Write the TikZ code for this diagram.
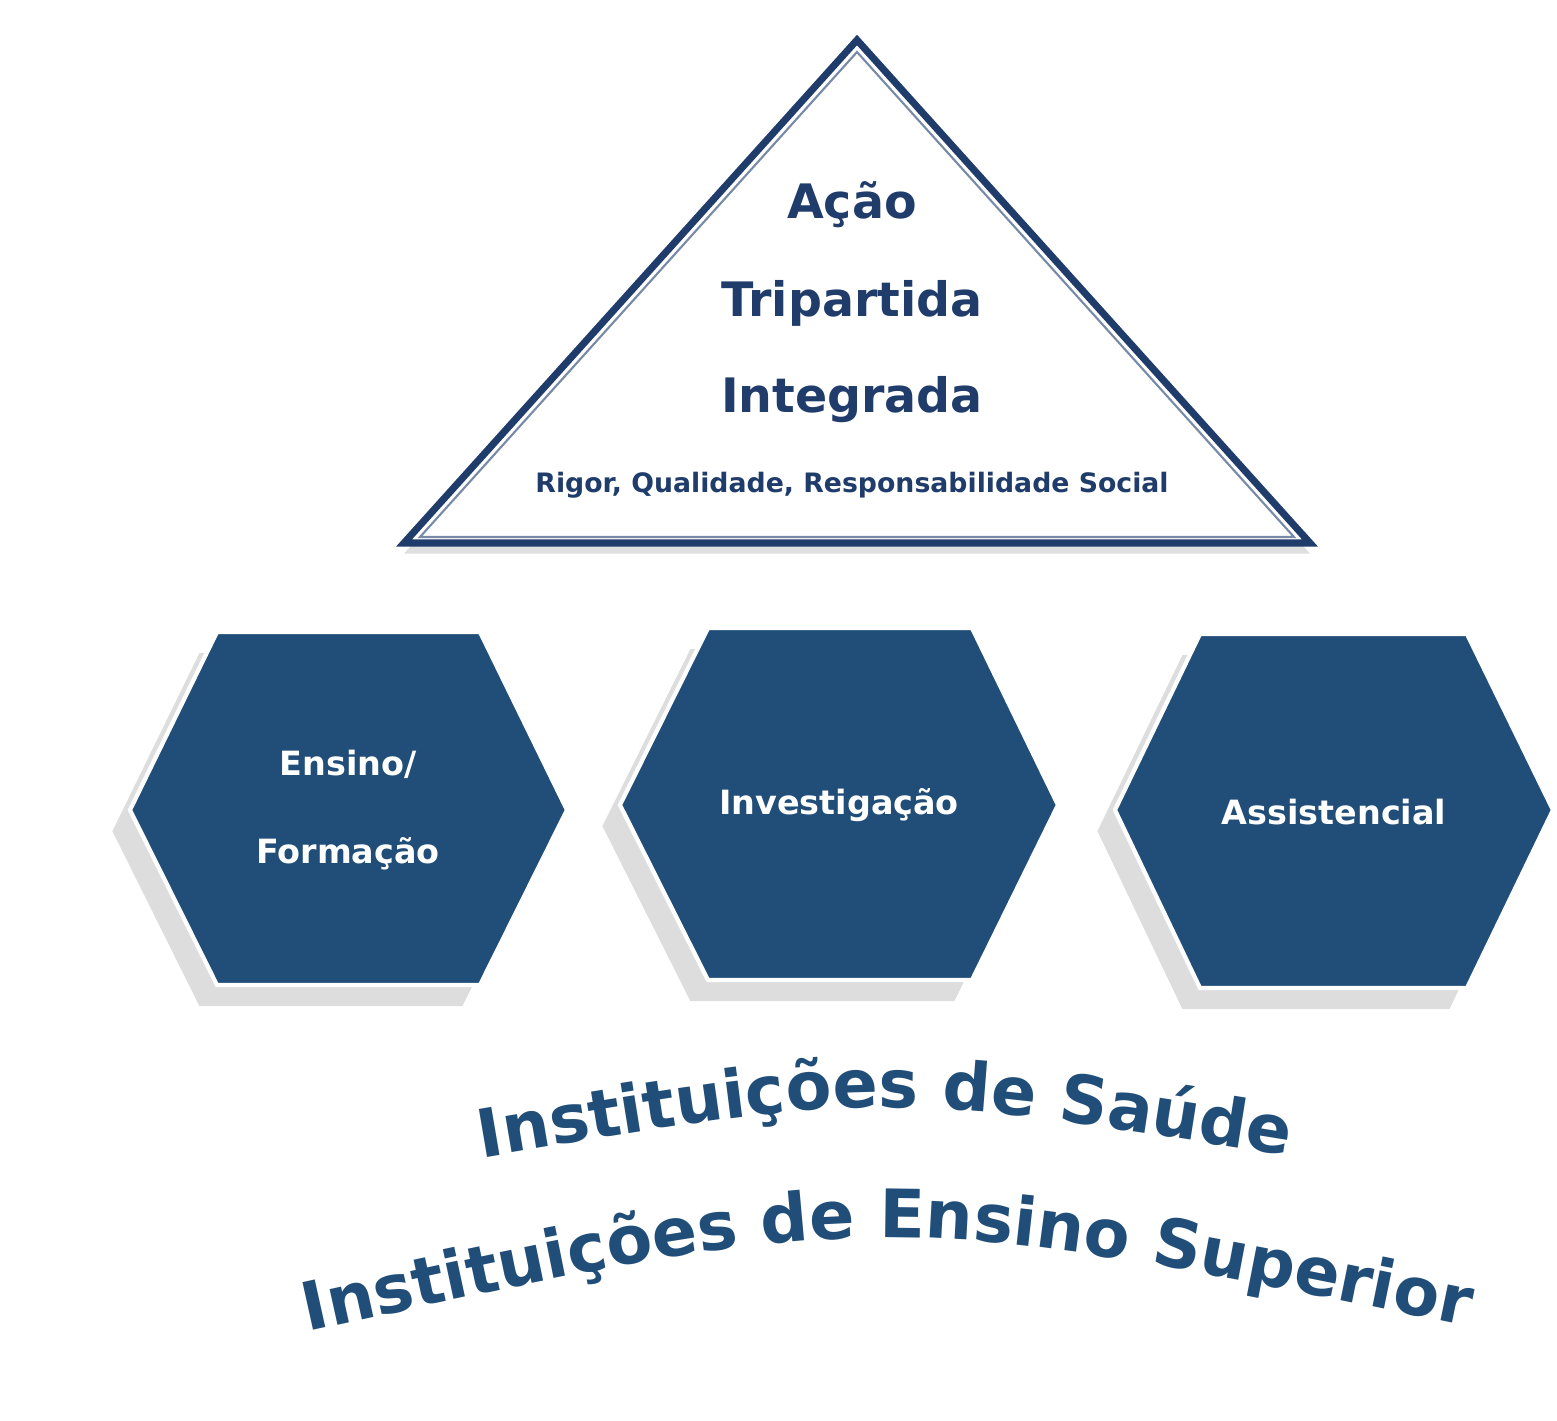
\documentclass[tikz,border=0pt]{standalone}
\usepackage{fontspec}
\setmainfont{DejaVu Sans}
\usetikzlibrary{shadows,decorations.text}
\definecolor{hexblue}{HTML}{214E78}
\definecolor{deepblue}{HTML}{1F3C6B}
\tikzset{
  hexbox/.style={fill=hexblue, draw=white, line width=1.2pt,
    drop shadow={shadow xshift=-5pt, shadow yshift=-6pt, opacity=0.22, fill=black!60}},
  hexlabel/.style={text=white, font=\bfseries\fontsize{9.5}{11}\selectfont, align=center},
  trilabel/.style={text=deepblue, font=\bfseries\fontsize{13.5}{16}\selectfont},
  arctitle/.style={decorate, decoration={text along path, text align=center,
        text={|\bfseries\fontsize{19}{23}\selectfont\color{hexblue}|#1}}},
}
\begin{document}
\begin{tikzpicture}[x=0.01cm, y=-0.01cm]
  \useasboundingbox (0,0) rectangle (1557,1420);
  % triangle
  \draw[deepblue, line width=2pt, fill=white, line join=miter,
        drop shadow={shadow xshift=0pt, shadow yshift=-3pt, opacity=0.25}]
    (857,40) -- (1310,543) -- (404,543) -- cycle;
  \draw[deepblue!60, line width=0.6pt] (857,52) -- (1294,537) -- (420,537) -- cycle;
  \node[trilabel] (acao) at (852,205) {Ação};
  \node[trilabel] (tri) at (852,303) {Tripartida};
  \node[trilabel] (integ) at (852,400) {Integrada};
  \node[text=deepblue, font=\bfseries\fontsize{7.6}{9}\selectfont] (rigor) at (852,485)
    {Rigor, Qualidade, Responsabilidade Social};
  % hexagons
  \path[hexbox] (217,632) -- (480,632) -- (567,810) -- (480,985) -- (217,985) -- (130,810) -- cycle;
  \path[hexbox] (708,628) -- (972,628) -- (1058,805) -- (972,980) -- (708,980) -- (620,805) -- cycle;
  \path[hexbox] (1200,634) -- (1467,634) -- (1553,810) -- (1467,988) -- (1200,988) -- (1115,810) -- cycle;
  \node[hexlabel] (ensino) at (348,810) {Ensino/\\[14pt]Formação};
  \node[hexlabel] (invest) at (839,805) {Investigação};
  \node[hexlabel] (assist) at (1334,812) {Assistencial};
  % curved titles
  \path[arctitle={Instituições de Saúde}]
    (470,1160) .. controls (880,1090) .. (1300,1158);
  \path[arctitle={Instituições de Ensino Superior}]
    (280,1338) .. controls (880,1205) .. (1495,1332);
\end{tikzpicture}
\end{document}
